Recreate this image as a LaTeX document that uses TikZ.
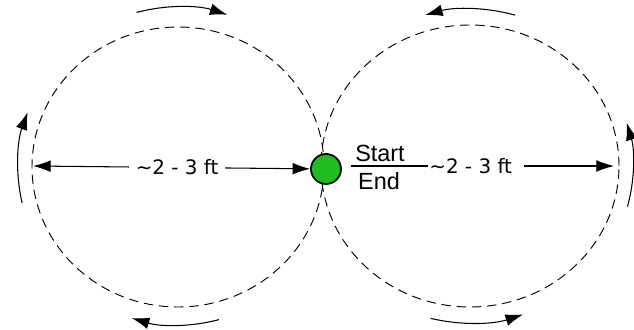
\documentclass[tikz,border=0pt]{standalone}
\usepackage{fontspec}
\setmainfont{DejaVu Sans}
\newfontfamily\arialfont{Liberation Sans}
\usetikzlibrary{arrows.meta}
\definecolor{dotgreen}{RGB}{30,190,30}

\begin{document}
\begin{tikzpicture}[x=0.3mm,y=0.3mm,
  loop/.style={dash pattern=on 8pt off 5pt, line width=0.8pt},
  turn/.style={-{Latex[length=15pt,width=10pt]}, line width=0.9pt},
  span/.style={line width=0.9pt},
  lbl/.style={fill=white, inner xsep=6pt, inner ysep=3pt, font=\fontsize{17}{20}\selectfont},
  word/.style={anchor=base, inner sep=0pt, font=\arialfont\fontsize{20}{24}\selectfont}]
  \useasboundingbox (0,0) rectangle (634,330);
  \coordinate (lc) at (178,163);
  \coordinate (rc) at (470,164);
  \coordinate (lend) at (33,164);
  \coordinate (rend) at (614,164);
  \coordinate (bar) at (351,164);
  % the two loops
  \draw[loop] (lc) ellipse [x radius=146, y radius=140];
  \draw[loop] (rc) ellipse [x radius=149, y radius=141];
  \node[circle, draw, line width=1.5pt, fill=dotgreen, minimum size=9mm, inner sep=0pt] (dot) at (326,161) {};
  % distances
  \draw[span, {Latex[length=15pt,width=10pt]}-{Latex[length=15pt,width=10pt]}] (lend) -- node[lbl, pos=0.52] {\textasciitilde 2 - 3 ft} (dot);
  \draw[span, -{Latex[length=15pt,width=10pt]}] (bar) -- node[lbl, inner xsep=1.5pt, pos=0.475] {\textasciitilde 2 - 3 ft\kern9pt} (rend);
  \node[word] (start) at (380,168) {Start};
  \node[word] (end) at (379,140) {End};
  % direction of travel
  \draw[turn] (lc) ++(105:160) arc[start angle=105, end angle=72, radius=160];
  \draw[turn] (lc) ++(193:160) arc[start angle=193, end angle=160, radius=160];
  \draw[turn] (lc) ++(285:158) arc[start angle=285, end angle=253, radius=158];
  \draw[turn] (rc) ++(74:163 and 157) arc[start angle=74, end angle=106, x radius=163, y radius=157];
  \draw[turn] (rc) ++(256:163 and 157) arc[start angle=256, end angle=289, x radius=163, y radius=157];
  \draw[turn] (rc) ++(345:163 and 157) arc[start angle=345, end angle=376, x radius=163, y radius=157];
\end{tikzpicture}
\end{document}
